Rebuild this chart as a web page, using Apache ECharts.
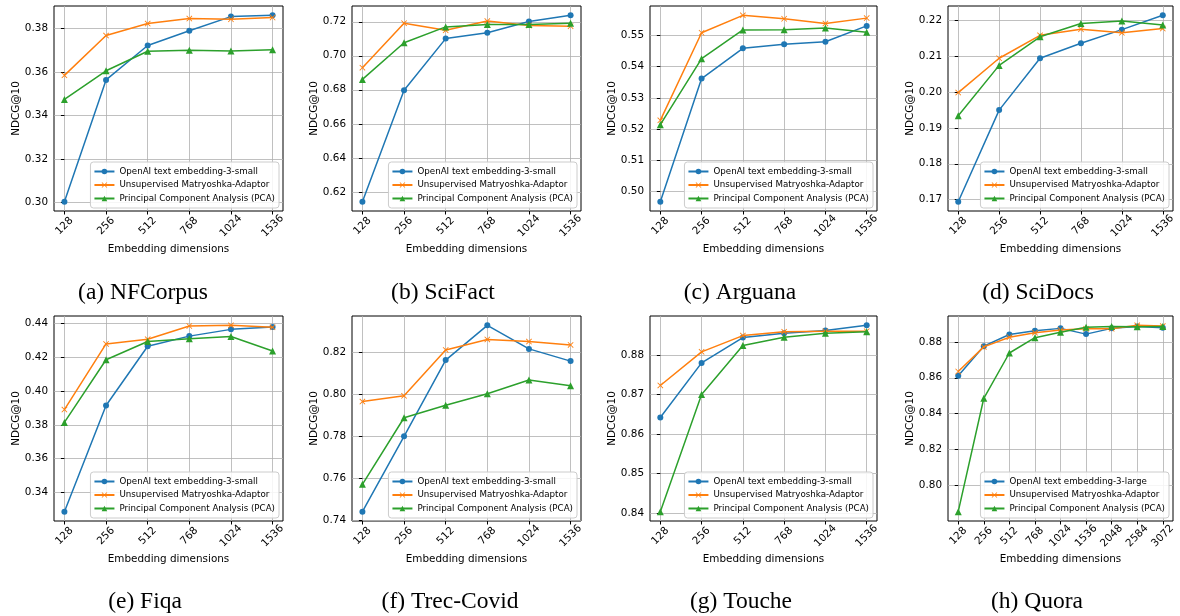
<!DOCTYPE html>
<html><head><meta charset="utf-8">
<script src="https://cdn.jsdelivr.net/npm/echarts@6/dist/echarts.min.js"></script>
<style>html,body{margin:0;padding:0;background:#fff}#c{width:1180px;height:616px}</style>
</head><body><div id="c"></div>
<script>
// ---------- data ----------
const dims6 = ['128', '256', '512', '768', '1024', '1536'];
const dims9 = ['128', '256', '512', '768', '1024', '1536', '2048', '2584', '3072'];

const nameSmall = 'OpenAI text embedding-3-small';
const nameLarge = 'OpenAI text embedding-3-large';
const nameAdaptor = 'Unsupervised Matryoshka-Adaptor';
const namePCA = 'Principal Component Analysis (PCA)';

const captions = ['(a) NFCorpus', '(b) SciFact', '(c) Arguana', '(d) SciDocs',
                  '(e) Fiqa', '(f) Trec-Covid', '(g) Touche', '(h) Quora'];

const nfcorpusOpenAI  = [0.3003, 0.3563, 0.3721, 0.3789, 0.3854, 0.3860];
const nfcorpusAdaptor = [0.3584, 0.3767, 0.3822, 0.3845, 0.3842, 0.3850];
const nfcorpusPCA     = [0.3473, 0.3605, 0.3695, 0.3699, 0.3696, 0.3702];
const nfcorpusTicks   = [0.30, 0.32, 0.34, 0.36, 0.38];

const scifactOpenAI  = [0.6142, 0.6797, 0.7101, 0.7136, 0.7202, 0.7238];
const scifactAdaptor = [0.6930, 0.7192, 0.7150, 0.7204, 0.7178, 0.7174];
const scifactPCA     = [0.6861, 0.7077, 0.7170, 0.7184, 0.7184, 0.7192];
const scifactTicks   = [0.62, 0.64, 0.66, 0.68, 0.70, 0.72];

const arguanaOpenAI  = [0.4967, 0.5362, 0.5459, 0.5472, 0.5480, 0.5531];
const arguanaAdaptor = [0.5228, 0.5509, 0.5565, 0.5554, 0.5539, 0.5556];
const arguanaPCA     = [0.5214, 0.5426, 0.5518, 0.5519, 0.5524, 0.5511];
const arguanaTicks   = [0.50, 0.51, 0.52, 0.53, 0.54, 0.55];

const scidocsOpenAI  = [0.1694, 0.1950, 0.2095, 0.2137, 0.2175, 0.2215];
const scidocsAdaptor = [0.1999, 0.2095, 0.2159, 0.2176, 0.2166, 0.2178];
const scidocsPCA     = [0.1934, 0.2075, 0.2155, 0.2192, 0.2199, 0.2188];
const scidocsTicks   = [0.17, 0.18, 0.19, 0.20, 0.21, 0.22];

const fiqaOpenAI  = [0.3286, 0.3915, 0.4266, 0.4326, 0.4366, 0.4380];
const fiqaAdaptor = [0.3891, 0.4280, 0.4308, 0.4386, 0.4390, 0.4378];
const fiqaPCA     = [0.3815, 0.4186, 0.4294, 0.4310, 0.4324, 0.4238];
const fiqaTicks   = [0.34, 0.36, 0.38, 0.40, 0.42, 0.44];

const trecOpenAI  = [0.7443, 0.7801, 0.8163, 0.8328, 0.8216, 0.8158];
const trecAdaptor = [0.7966, 0.7993, 0.8211, 0.8261, 0.8251, 0.8235];
const trecPCA     = [0.7573, 0.7889, 0.7948, 0.8003, 0.8068, 0.8041];
const trecTicks   = [0.74, 0.76, 0.78, 0.80, 0.82];

const toucheOpenAI  = [0.8642, 0.8780, 0.8844, 0.8855, 0.8862, 0.8875];
const toucheAdaptor = [0.8723, 0.8808, 0.8849, 0.8859, 0.8860, 0.8860];
const touchePCA     = [0.8404, 0.8700, 0.8824, 0.8845, 0.8855, 0.8859];
const toucheTicks   = [0.84, 0.85, 0.86, 0.87, 0.88];

const quoraOpenAI  = [0.8612, 0.8776, 0.8841, 0.8862, 0.8875, 0.8843, 0.8875, 0.8886, 0.8879];
const quoraAdaptor = [0.8635, 0.8772, 0.8826, 0.8851, 0.8866, 0.8873, 0.8873, 0.8892, 0.8888];
const quoraPCA     = [0.7855, 0.8486, 0.8738, 0.8823, 0.8854, 0.8881, 0.8886, 0.8884, 0.8886];
const quoraTicks   = [0.80, 0.82, 0.84, 0.86, 0.88];

// ---------- layout ----------
const panels = [
  {dims: dims6, base: nameSmall, s: [nfcorpusOpenAI, nfcorpusAdaptor, nfcorpusPCA], ticks: nfcorpusTicks},
  {dims: dims6, base: nameSmall, s: [scifactOpenAI, scifactAdaptor, scifactPCA], ticks: scifactTicks},
  {dims: dims6, base: nameSmall, s: [arguanaOpenAI, arguanaAdaptor, arguanaPCA], ticks: arguanaTicks},
  {dims: dims6, base: nameSmall, s: [scidocsOpenAI, scidocsAdaptor, scidocsPCA], ticks: scidocsTicks},
  {dims: dims6, base: nameSmall, s: [fiqaOpenAI, fiqaAdaptor, fiqaPCA], ticks: fiqaTicks},
  {dims: dims6, base: nameSmall, s: [trecOpenAI, trecAdaptor, trecPCA], ticks: trecTicks},
  {dims: dims6, base: nameSmall, s: [toucheOpenAI, toucheAdaptor, touchePCA], ticks: toucheTicks},
  {dims: dims9, base: nameLarge, s: [quoraOpenAI, quoraAdaptor, quoraPCA], ticks: quoraTicks}
];
const colX = [[54, 283], [352, 581], [650, 877], [948, 1173]];
const rowY = [[6, 211], [316, 521]];
const capPos = [[143, 293], [443, 293], [740, 293], [1038, 293], [145, 602], [450, 602], [741, 602], [1037, 602]];

const colors = ['#1f77b4', '#ff7f0e', '#2ca02c'];
const xPath = 'path://M0,1L1,0L5,4L9,0L10,1L6,5L10,9L9,10L5,6L1,10L0,9L4,5Z';
const symbols = ['circle', xPath, 'triangle'];
const symSizes = [6, 6, 7];

const grids = [], xAxes = [], yAxes = [], series = [], legends = [], graphics = [];
const fontSans = 'DejaVu Sans';
const fs = 10.4;

panels.forEach((p, i) => {
  const [L, R] = colX[i % 4];
  const [T, B] = rowY[Math.floor(i / 4)];
  grids.push({left: L, top: T, width: R - L, height: B - T, show: true,
              borderColor: '#000', borderWidth: 1, backgroundColor: 'transparent', containLabel: false});
  const n = p.dims.length;
  const xm = 0.05 * (n - 1);
  const idx = p.dims.map((d, k) => k);
  xAxes.push({
    type: 'value', gridIndex: i, min: -xm, max: n - 1 + xm,
    axisLine: {show: false},
    axisTick: {show: true, customValues: idx, length: 3.5, lineStyle: {color: '#000', width: 1}},
    axisLabel: {customValues: idx, rotate: 45, margin: 15, align: 'center', verticalAlign: 'middle',
                fontFamily: fontSans, fontSize: fs, color: '#000',
                formatter: v => p.dims[Math.round(v)]},
    splitLine: {show: true, lineStyle: {color: '#b0b0b0', width: 0.8}},
    name: 'Embedding dimensions', nameLocation: 'middle', nameGap: 33,
    nameTextStyle: {fontFamily: fontSans, fontSize: fs, color: '#000'}
  });
  const all = [].concat(...p.s);
  const mn = Math.min(...all), mx = Math.max(...all);
  const ym = 0.05 * (mx - mn);
  yAxes.push({
    type: 'value', gridIndex: i, min: mn - ym, max: mx + ym,
    axisLine: {show: false},
    axisTick: {show: true, customValues: p.ticks, length: 3.5, lineStyle: {color: '#000', width: 1}},
    axisLabel: {customValues: p.ticks, margin: 6, fontFamily: fontSans, fontSize: fs, color: '#000',
                formatter: v => v.toFixed(2)},
    splitLine: {show: true, lineStyle: {color: '#b0b0b0', width: 0.8}},
    name: 'NDCG@10', nameLocation: 'middle', nameGap: 33,
    nameTextStyle: {fontFamily: fontSans, fontSize: fs, color: '#000'}
  });
  const names = [p.base, nameAdaptor, namePCA];
  names.forEach((nm, k) => {
    series.push({
      type: 'line', name: nm, xAxisIndex: i, yAxisIndex: i,
      data: p.s[k].map((v, j) => [j, v]),
      symbol: symbols[k], symbolSize: symSizes[k], showAllSymbol: true,
      lineStyle: {color: colors[k], width: 1.5},
      itemStyle: {color: colors[k], borderWidth: 0},
      emphasis: {disabled: true}, animation: false, z: 2 + k
    });
  });
  legends.push({
    orient: 'vertical', right: 1180 - R + 4, bottom: 616 - B + 3,
    data: names, itemWidth: 20, itemHeight: 7, itemGap: 4.5,
    padding: [5, 4, 5, 3], backgroundColor: 'rgba(255,255,255,0.85)',
    borderColor: '#cccccc', borderWidth: 1, borderRadius: 3,
    selectedMode: false,
    textStyle: {fontFamily: fontSans, fontSize: 8.7, color: '#000', padding: [0, 0, 0, 0]}
  });
  graphics.push({
    type: 'text', x: capPos[i][0], y: capPos[i][1],
    style: {text: captions[i], align: 'center', verticalAlign: 'middle',
            fontFamily: 'Liberation Serif', fontSize: 23.5, fill: '#000'}
  });
});

const chart = echarts.init(document.getElementById('c'), null, {renderer: 'canvas'});
chart.setOption({
  animation: false,
  backgroundColor: '#fff',
  grid: grids, xAxis: xAxes, yAxis: yAxes, series: series, legend: legends,
  graphic: graphics
});
</script></body></html>
